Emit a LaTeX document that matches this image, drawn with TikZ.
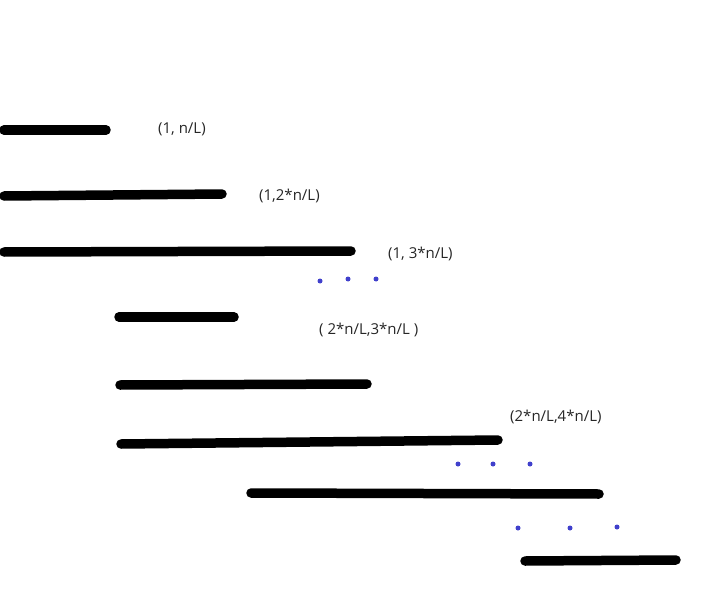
\documentclass[tikz,border=0pt]{standalone}
\usepackage{fontspec}
\setmainfont{Open Sans}
\definecolor{dotblue}{RGB}{64,64,204}
\begin{document}
\begin{tikzpicture}[x=1pt,y=-1pt,
  bar/.style={line width=9.5pt,line cap=round,black},
  lbl/.style={anchor=west,inner sep=0pt,font=\fontsize{15}{17}\selectfont,text=black!85},
  dot/.style={circle,fill=dotblue,inner sep=0pt,minimum size=5pt}]
\useasboundingbox (0,0) rectangle (712,599);
% bars
\draw[bar] (4,130) -- (106,130);
\draw[bar] (4,196) -- (222,194);
\draw[bar] (4,252) -- (351,251);
\draw[bar] (119,317) -- (234,317);
\draw[bar] (120,385) -- (367,384);
\draw[bar] (121,444) -- (498,440);
\draw[bar] (251,493) -- (599,494);
\draw[bar] (525,561) -- (676,560);
% labels
\node[lbl] (l1) at (158,129) {(1, n/L)};
\node[lbl] (l2) at (259,196) {(1,2*n/L)};
\node[lbl] (l3) at (388,254) {(1, 3*n/L)};
\node[lbl] (l4) at (319,330) {( 2*n/L,3*n/L )};
\node[lbl] (l5) at (510,417) {(2*n/L,4*n/L)};
% dots
\node[dot] (d1) at (320,281) {};
\node[dot] (d2) at (348,279) {};
\node[dot] (d3) at (376,279) {};
\node[dot] (d4) at (458,464) {};
\node[dot] (d5) at (493,464) {};
\node[dot] (d6) at (530,464) {};
\node[dot] (d7) at (518,528) {};
\node[dot] (d8) at (570,528) {};
\node[dot] (d9) at (617,527) {};
\end{tikzpicture}
\end{document}
